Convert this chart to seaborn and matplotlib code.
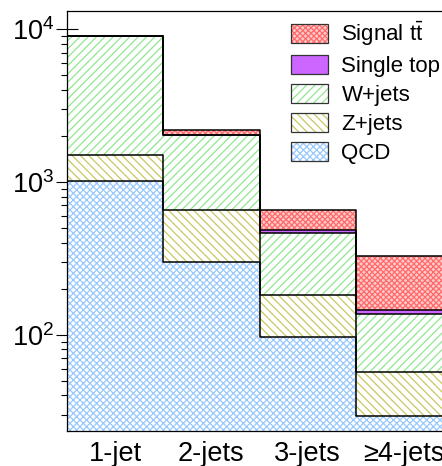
import numpy as np
import pandas as pd
import matplotlib
matplotlib.use("Agg")
import matplotlib.pyplot as plt
from matplotlib.patches import Patch
from matplotlib.colors import to_hex
import seaborn as sns

# Jet-multiplicity categories
categories = ["1-jet", "2-jets", "3-jets", "\u22654-jets"]

# Expected event yields per process in each jet bin
signal_tt = [30, 133, 170, 180]
single_top = [25, 16, 19, 8]
w_jets = [7450, 1368, 282, 80]
z_jets = [500, 355, 86, 27.5]
qcd = [1005, 298, 96, 29.5]

processes = ["Signal tt", "Single top", "W+jets", "Z+jets", "QCD"]
legend_labels = [r"Signal $\mathregular{t\bar{t}}$", "Single top", "W+jets", "Z+jets", "QCD"]
yields = [signal_tt, single_top, w_jets, z_jets, qcd]

# Plain palette keys (used to recognise bars), plus the drawn styles
key_colors = ["#ff0000", "#8000ff", "#00c000", "#c0c000", "#0080ff"]
face_colors = ["#ffcaca", "#cc66ff", "white", "white", "white"]
hatch_colors = ["#ff6a6a", "#cc66ff", "#90e890", "#c8c860", "#99c8ff"]
hatches = ["xxxxxx", None, "////", "\\\\\\\\", "xxxxx"]

rows = []
for proc, vals in zip(processes, yields):
    for i, v in enumerate(vals):
        rows.append({"bin": i, "process": proc, "events": v})
df = pd.DataFrame(rows)

sns.set_style("ticks")
plt.rcParams["font.family"] = ["Liberation Sans", "DejaVu Sans"]
plt.rcParams["mathtext.fontset"] = "custom"
plt.rcParams["mathtext.rm"] = "Liberation Sans"
plt.rcParams["mathtext.it"] = "Liberation Sans:italic"
plt.rcParams["hatch.linewidth"] = 0.9
plt.rcParams["text.color"] = "black"
plt.rcParams["xtick.color"] = "black"
plt.rcParams["ytick.color"] = "black"

fig = plt.figure(figsize=(4.42, 4.66), dpi=100)
W, H = 442, 466
ax = fig.add_axes([67 / W, 35 / H, 385 / W, 420 / H])

edges = [i - 0.5 for i in range(len(categories) + 1)]
palette = dict(zip(processes, key_colors))

# Stacked filled bins (QCD at the bottom, signal on top)
sns.histplot(data=df, x="bin", weights="events", hue="process",
             hue_order=processes, palette=palette, bins=edges,
             multiple="stack", element="bars", shrink=1, legend=False, ax=ax)

style = {to_hex(c): (fc, hc, h) for c, fc, hc, h in
         zip(key_colors, face_colors, hatch_colors, hatches)}
for p in ax.patches:
    key = to_hex(p.get_facecolor()[:3])
    if key not in style:
        continue
    fc, hc, h = style[key]
    p.set_alpha(1)
    p.set_facecolor(fc)
    p.set_edgecolor(hc)
    p.set_linewidth(0)
    p.set_hatch(h)

# Black step outlines of each cumulative level
sns.histplot(data=df, x="bin", weights="events", hue="process",
             hue_order=processes, palette=dict.fromkeys(processes, "black"),
             bins=edges, multiple="stack", element="step", fill=False,
             linewidth=1.1, legend=False, ax=ax)

ax.set_yscale("log")
ax.set_ylim(23.4, 13120)
ax.set_xlim(edges[0], edges[-1])
ax.set_xticks(range(len(categories)))
ax.set_xticklabels(categories)
ax.set_xlabel("")
ax.set_ylabel("")
ax.set_axisbelow(True)

ax.tick_params(axis="x", length=0, pad=7, labelsize=19.5, labelcolor="black")
ax.tick_params(axis="y", which="major", direction="inout", length=16,
               width=0.8, pad=1, labelsize=19.5, labelcolor="black")
ax.tick_params(axis="y", which="minor", direction="inout", length=8.6, width=0.8)
for s in ["left", "top", "bottom"]:
    ax.spines[s].set_linewidth(0.9)
    ax.spines[s].set_color("black")
ax.spines["right"].set_visible(False)

handles = []
for fc, hc, h in zip(face_colors, hatch_colors, hatches):
    fill = Patch(facecolor=fc, edgecolor=hc, hatch=h, linewidth=0)
    outline = Patch(facecolor="none", edgecolor="#333333", linewidth=0.9)
    handles.append((fill, outline))

leg = ax.legend(handles, legend_labels, loc="upper left",
                bbox_to_anchor=((291 - 67) / 385, (431 - 20) / 420),
                frameon=False, fontsize=16, handlelength=1.67, handleheight=0.95,
                handletextpad=0.6, labelspacing=0.3, borderpad=0, borderaxespad=0)
for t in leg.get_texts():
    t.set_color("black")

fig.savefig("out.png", dpi=100)
